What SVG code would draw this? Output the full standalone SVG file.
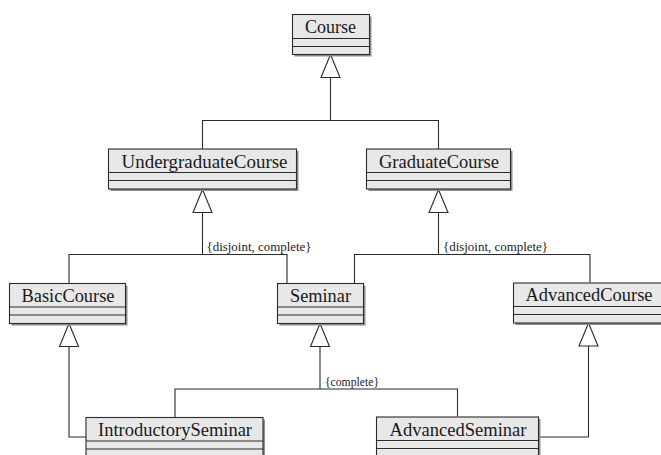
<svg xmlns="http://www.w3.org/2000/svg" width="661" height="455" viewBox="0 0 661 455">
  <defs>
    <style>
      .shadow { fill: #8f8f8f; }
      .box { fill: #e8e8e8; stroke: #2b2b2b; stroke-width: 1.1; }
      .sep { stroke: #2b2b2b; stroke-width: 1.1; }
      .name { font-family: "Liberation Serif", "Times New Roman", serif; font-size: 18px; fill: #1a1a1a; }
      .conn { fill: none; stroke: #2b2b2b; stroke-width: 1.1; }
      .gen { marker-end: url(#hollowTriangle); }
      .constraint { font-family: "Liberation Serif", "Times New Roman", serif; font-size: 12.8px; fill: #222; }
    </style>
    <marker id="hollowTriangle" markerUnits="userSpaceOnUse" markerWidth="25" markerHeight="21"
            viewBox="-1 -1 25 21" refX="23" refY="9.5" orient="auto" overflow="visible">
      <path d="M23,9.5 L0,0 L0,19 Z" fill="#fff" stroke="#2b2b2b" stroke-width="1.1"/>
    </marker>
  </defs>

  <rect width="661" height="455" fill="#fff"/>

  <!-- generalization connectors -->
  <g id="connectors">
    <path class="conn" d="M202.5,149 V120.5 H438.5 V149"/>
    <path class="conn gen" d="M330.5,120.5 V54.5"/>

    <path class="conn" d="M69,283 V254.5 H287 V283"/>
    <path class="conn gen" d="M202.5,254.5 V189.5"/>
    <text class="constraint" x="206.5" y="250.5" textLength="105" lengthAdjust="spacingAndGlyphs">{disjoint, complete}</text>

    <path class="conn" d="M354.5,283 V254.5 H590 V282.5"/>
    <path class="conn gen" d="M438.5,254.5 V189.5"/>
    <text class="constraint" x="443" y="250.5" textLength="105" lengthAdjust="spacingAndGlyphs">{disjoint, complete}</text>

    <path class="conn" d="M175,417 V389 H457.5 V416.5"/>
    <path class="conn gen" d="M320,389 V323.5"/>
    <text class="constraint" x="325" y="385.5" textLength="54" lengthAdjust="spacingAndGlyphs">{complete}</text>

    <path class="conn gen" d="M86,437 H69 V323.5"/>
    <path class="conn gen" d="M538.5,437 H588.5 V323"/>
  </g>

  <g id="Course">
    <rect class="shadow" x="294.5" y="16.5" width="77" height="40"/>
    <rect class="box" x="292.5" y="14.5" width="77" height="40"/>
    <line class="sep" x1="292.5" y1="38.5" x2="369.5" y2="38.5"/>
    <line class="sep" x1="292.5" y1="46.5" x2="369.5" y2="46.5"/>
    <text class="name" x="305" y="33" textLength="51" lengthAdjust="spacingAndGlyphs">Course</text>
  </g>

  <g id="UndergraduateCourse">
    <rect class="shadow" x="110.5" y="151" width="188" height="40"/>
    <rect class="box" x="108.5" y="149" width="188" height="40"/>
    <line class="sep" x1="108.5" y1="172.5" x2="296.5" y2="172.5"/>
    <line class="sep" x1="108.5" y1="180.5" x2="296.5" y2="180.5"/>
    <text class="name" x="121.5" y="167.5" textLength="166" lengthAdjust="spacingAndGlyphs">UndergraduateCourse</text>
  </g>

  <g id="GraduateCourse">
    <rect class="shadow" x="368.5" y="151" width="144" height="40"/>
    <rect class="box" x="366.5" y="149" width="144" height="40"/>
    <line class="sep" x1="366.5" y1="172.5" x2="510.5" y2="172.5"/>
    <line class="sep" x1="366.5" y1="180.5" x2="510.5" y2="180.5"/>
    <text class="name" x="379" y="167.5" textLength="120" lengthAdjust="spacingAndGlyphs">GraduateCourse</text>
  </g>

  <g id="BasicCourse">
    <rect class="shadow" x="11.5" y="285.5" width="116" height="40"/>
    <rect class="box" x="9.5" y="283.5" width="116" height="40"/>
    <line class="sep" x1="9.5" y1="307" x2="125.5" y2="307"/>
    <line class="sep" x1="9.5" y1="315" x2="125.5" y2="315"/>
    <text class="name" x="21.5" y="301.8" textLength="93" lengthAdjust="spacingAndGlyphs">BasicCourse</text>
  </g>

  <g id="Seminar">
    <rect class="shadow" x="279.5" y="285.5" width="86" height="40"/>
    <rect class="box" x="277.5" y="283.5" width="86" height="40"/>
    <line class="sep" x1="277.5" y1="307" x2="363.5" y2="307"/>
    <line class="sep" x1="277.5" y1="315" x2="363.5" y2="315"/>
    <text class="name" x="290" y="301.8" textLength="61" lengthAdjust="spacingAndGlyphs">Seminar</text>
  </g>

  <g id="AdvancedCourse">
    <rect class="shadow" x="515.5" y="285" width="150" height="40"/>
    <rect class="box" x="513.5" y="283" width="150" height="40"/>
    <line class="sep" x1="513.5" y1="306.5" x2="663.5" y2="306.5"/>
    <line class="sep" x1="513.5" y1="314.5" x2="663.5" y2="314.5"/>
    <text class="name" x="525.5" y="301.3" textLength="127" lengthAdjust="spacingAndGlyphs">AdvancedCourse</text>
  </g>

  <g id="IntroductorySeminar">
    <rect class="shadow" x="88" y="419.5" width="177" height="40"/>
    <rect class="box" x="86" y="417.5" width="177" height="40"/>
    <line class="sep" x1="86" y1="441" x2="263" y2="441"/>
    <line class="sep" x1="86" y1="449" x2="263" y2="449"/>
    <text class="name" x="98" y="435.5" textLength="154" lengthAdjust="spacingAndGlyphs">IntroductorySeminar</text>
  </g>

  <g id="AdvancedSeminar">
    <rect class="shadow" x="378.5" y="419" width="162" height="40"/>
    <rect class="box" x="376.5" y="417" width="162" height="40"/>
    <line class="sep" x1="376.5" y1="440.5" x2="538.5" y2="440.5"/>
    <line class="sep" x1="376.5" y1="448.5" x2="538.5" y2="448.5"/>
    <text class="name" x="389.5" y="435.5" textLength="137" lengthAdjust="spacingAndGlyphs">AdvancedSeminar</text>
  </g>
</svg>
